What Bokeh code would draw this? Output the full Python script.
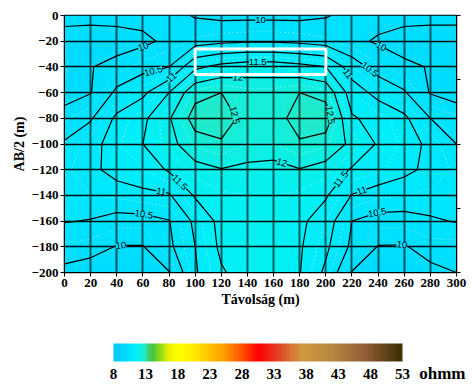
import numpy as np
from bokeh.plotting import figure
from bokeh.plotting.contour import contour_data
from bokeh.models import (Range1d, LinearAxis, SingleIntervalTicker, FixedTicker,
                          ColumnDataSource, LinearColorMapper)
from bokeh.embed import file_html
from bokeh.resources import INLINE
from bokeh.core.properties import value

# ---------------- data ----------------
dist_m = [0, 20, 40, 60, 80, 100, 120, 140, 160, 180, 200, 220, 240, 260, 280, 300]
depth_m = [0, -20, -40, -60, -80, -100, -120, -140, -160, -180, -200]

rho_d0 = [10.15, 10.15, 10.15, 10.15, 10.12, 9.97, 9.9, 9.9, 9.9, 9.9, 9.97, 10.12, 10.15, 10.15, 10.15, 10.15]
rho_d20 = [9.8, 9.75, 9.8, 9.9, 10.1, 10.3, 10.4, 10.45, 10.45, 10.4, 10.3, 10.1, 9.95, 9.8, 9.75, 9.75]
rho_d40 = [9.7, 9.98, 10.15, 10.35, 10.5, 11.4, 11.65, 11.75, 11.75, 11.65, 11.5, 10.75, 10.3, 10.1, 9.97, 9.8]
rho_d60 = [9.8, 9.98, 10.6, 10.9, 11.5, 12.35, 12.5, 12.35, 12.35, 12.5, 12.35, 11.25, 10.85, 10.55, 9.97, 9.8]
rho_d80 = [10.2, 10.45, 11.1, 11.4, 11.95, 12.7, 12.7, 12.35, 12.3, 12.7, 12.75, 11.55, 11.35, 11.1, 10.5, 10.3]
rho_d100 = [10.55, 10.85, 11.2, 11.5, 11.85, 12.3, 12.45, 12.25, 12.25, 12.45, 12.3, 11.9, 11.45, 11.2, 10.9, 10.5]
rho_d120 = [10.7, 10.9, 11.15, 11.25, 11.55, 11.85, 11.98, 11.9, 11.85, 11.98, 11.85, 11.45, 11.3, 11.1, 10.9, 10.7]
rho_d140 = [10.65, 10.75, 10.8, 10.9, 10.95, 11.55, 11.7, 11.75, 11.75, 11.7, 11.55, 10.98, 10.8, 10.75, 10.7, 10.65]
rho_d160 = [10.52, 10.48, 10.35, 10.35, 10.48, 11.1, 11.65, 11.75, 11.75, 11.6, 11.25, 10.5, 10.35, 10.35, 10.45, 10.52]
rho_d180 = [10.2, 10.15, 9.98, 9.98, 10.4, 11.0, 11.6, 11.7, 11.7, 11.55, 11.1, 10.4, 9.98, 9.97, 10.15, 10.15]
rho_d200 = [9.9, 9.8, 9.75, 9.8, 9.98, 10.95, 11.45, 11.7, 11.7, 11.52, 10.9, 9.98, 9.8, 9.8, 9.9, 10.0]

contour_levels = [10, 10.5, 11, 11.5, 12, 12.5]
minor_levels = [9.75, 10.25, 10.75, 11.25, 11.75, 12.25, 12.75]
cbar_ticks = [8, 13, 18, 23, 28, 33, 38, 43, 48, 53]
unit_label = "ohmm"
x_title = "Távolság (m)"
y_title = "AB/2 (m)"
box_x = [100, 200]
box_y = [-46, -26]

# ---------------- colour map ----------------
anchors = [(8.0, "#00c8ff"), (9.5, "#00d8ff"), (10.5, "#00e4ff"), (11.5, "#00f0f8"),
           (12.2, "#10f0e0"), (12.8, "#28e8c0"), (13.3, "#40d080"), (13.8, "#40c040"),
           (15.0, "#80d820"), (16.5, "#e8f000"), (18.0, "#ffff00"), (20.0, "#fff000"),
           (22.0, "#ffd000"), (25.0, "#ffa000"), (27.5, "#ff6000"), (30.5, "#ff0000"),
           (33.0, "#e83020"), (35.5, "#d87030"), (37.5, "#d09840"), (42.0, "#b88840"),
           (47.0, "#946038"), (53.0, "#3c3000")]
a_v = np.array([a[0] for a in anchors])
a_rgb = np.array([[int(c[1:3], 16), int(c[3:5], 16), int(c[5:7], 16)] for _, c in anchors], float)


def cmap(v):
    r, g, b = (np.interp(v, a_v, a_rgb[:, k]) for k in range(3))
    return "#%02x%02x%02x" % (int(round(r)), int(round(g)), int(round(b)))


# grid oriented with increasing y
Z = np.array([rho_d0, rho_d20, rho_d40, rho_d60, rho_d80, rho_d100, rho_d120,
              rho_d140, rho_d160, rho_d180, rho_d200])[::-1]
X = np.array(dist_m, float)
Y = np.array(depth_m, float)[::-1]

fill_levels = list(np.round(np.arange(9.0, 13.0001, 0.05), 3))
band_colors = [cmap(0.5 * (fill_levels[i] + fill_levels[i + 1])) for i in range(len(fill_levels) - 1)]

SERIF = "Liberation Serif"

p = figure(width=472, height=310, x_range=Range1d(0, 300), y_range=Range1d(-200, 0),
           output_backend="svg", toolbar_location=None,
           min_border_left=64, min_border_right=16, min_border_top=15, min_border_bottom=38)
p.background_fill_color = "#00e4ff"

cf = p.contour(X, Y, Z, fill_levels, fill_color=band_colors)
try:
    g = cf.fill_renderer.glyph
    g.line_color = g.fill_color
    g.line_width = 0.6
except Exception:
    pass

p.contour(X, Y, Z, minor_levels, line_color="white", line_alpha=0.45, line_width=0.8, line_dash="2 2")
p.contour(X, Y, Z, contour_levels, line_color="black", line_width=1.2)

# contour labels placed along the computed lines
frame_w, frame_h = 392.0, 257.0
sx, sy = frame_w / 300.0, frame_h / 200.0
cd = contour_data(X, Y, Z, contour_levels, want_fill=False, want_line=True)
lx, ly, la, lt, lc = [], [], [], [], []
for lev, xs, ys in zip(contour_levels, cd.line_data.xs, cd.line_data.ys):
    xs = np.asarray(xs, float)
    ys = np.asarray(ys, float)
    brk = np.where(np.isnan(xs))[0]
    starts = np.concatenate([[0], brk + 1])
    ends = np.concatenate([brk, [len(xs)]])
    for s, e in zip(starts, ends):
        segx, segy = xs[s:e], ys[s:e]
        if len(segx) < 2:
            continue
        px, py = segx * sx, segy * sy
        d = np.hypot(np.diff(px), np.diff(py))
        cum = np.concatenate([[0], np.cumsum(d)])
        L = cum[-1]
        if L < 30:
            continue
        n = max(1, int(L // 170))
        for k in range(n):
            t = (k + 0.5) * L / n
            cx = np.interp(t, cum, segx)
            cy = np.interp(t, cum, segy)
            x1 = np.interp(max(t - 8, 0), cum, px); y1 = np.interp(max(t - 8, 0), cum, py)
            x2 = np.interp(min(t + 8, L), cum, px); y2 = np.interp(min(t + 8, L), cum, py)
            ang = np.arctan2(y2 - y1, x2 - x1)
            if ang > np.pi / 2:
                ang -= np.pi
            if ang < -np.pi / 2:
                ang += np.pi
            lx.append(cx); ly.append(cy); la.append(ang)
            lt.append(f"{lev:g}"); lc.append(cmap(lev))

lab_src = ColumnDataSource(dict(x=lx, y=ly, angle=la, text=lt, bg=lc))
p.text(x="x", y="y", text="text", angle="angle", source=lab_src,
       text_font=value("Liberation Sans"), text_font_size="9.5px", text_color="black",
       text_align="center", text_baseline="middle",
       background_fill_color="bg", level="annotation")

# white marked rectangle
p.quad(left=[box_x[0]], right=[box_x[1]], bottom=[box_y[0]], top=[box_y[1]],
       fill_color=None, line_color="white", line_width=3, level="annotation")

# axes
p.xaxis.ticker = SingleIntervalTicker(interval=20)
p.yaxis.ticker = SingleIntervalTicker(interval=20)
for ax in (p.xaxis[0], p.yaxis[0]):
    ax.major_label_text_font = SERIF
    ax.major_label_text_font_style = "bold"
    ax.major_label_text_font_size = "13px"
    ax.major_label_text_color = "black"
    ax.axis_label_text_font = SERIF
    ax.axis_label_text_font_style = "bold"
    ax.axis_label_text_font_size = "14px"
    ax.axis_label_text_color = "black"
    ax.major_tick_out = 4
    ax.major_tick_in = 0
    ax.minor_tick_line_color = None
    ax.major_tick_line_color = "black"
    ax.axis_line_color = "black"
    ax.major_label_standoff = 2
    ax.axis_label_standoff = 2
p.xaxis.axis_label = x_title
p.yaxis.axis_label = y_title

right_ticks = [0, -50, -100, -150, -200]
ra = LinearAxis(ticker=FixedTicker(ticks=right_ticks),
                major_label_overrides={t: "" for t in right_ticks},
                major_tick_out=4, major_tick_in=0,
                minor_tick_line_color=None, axis_line_color="black", major_label_standoff=0)
p.add_layout(ra, "right")

p.xgrid.grid_line_color = "black"
p.xgrid.grid_line_alpha = 0.6
p.xgrid.grid_line_width = 2
p.ygrid.grid_line_color = "black"
p.ygrid.grid_line_alpha = 0.95
p.ygrid.grid_line_width = 1.5
p.xgrid.level = "guide"
p.ygrid.level = "guide"
p.outline_line_color = "black"
p.outline_line_width = 1.5

# ---------------- colour bar (separate figure, drawn in pixel-like units) ----------------
cb_low, cb_high = cbar_ticks[0], cbar_ticks[-1]
px_per_unit = 289.0 / (cb_high - cb_low)
cb_x0 = cb_low - 49.0 / px_per_unit
cb = figure(width=472, height=75, x_range=Range1d(cb_x0, cb_x0 + 408.0 / px_per_unit),
            y_range=Range1d(-75, 0), output_backend="svg", toolbar_location=None,
            min_border_left=64, min_border_right=0, min_border_top=0, min_border_bottom=0)
pal = [cmap(v) for v in np.linspace(cb_low, cb_high, 256)]
mapper = LinearColorMapper(palette=pal, low=cb_low, high=cb_high)
grad = np.linspace(cb_low, cb_high, 451)[None, :]
cb.image(image=[grad], x=cb_low, y=-51, dw=cb_high - cb_low, dh=18, color_mapper=mapper)
cb.text(x=cbar_ticks, y=[-63] * len(cbar_ticks), text=[str(t) for t in cbar_ticks],
        text_font=value(SERIF), text_font_style="bold", text_font_size="15px",
        text_color="black", text_align="center", text_baseline="middle")
cb.text(x=[cb_high + 2.6], y=[-63], text=[unit_label],
        text_font=value(SERIF), text_font_style="bold", text_font_size="17px",
        text_color="black", text_align="left", text_baseline="middle")
cb.axis.visible = False
cb.grid.visible = False
cb.outline_line_color = None
cb.background_fill_color = "white"
cb.border_fill_color = "white"

open("out.html", "w").write(file_html([p, cb], INLINE))
